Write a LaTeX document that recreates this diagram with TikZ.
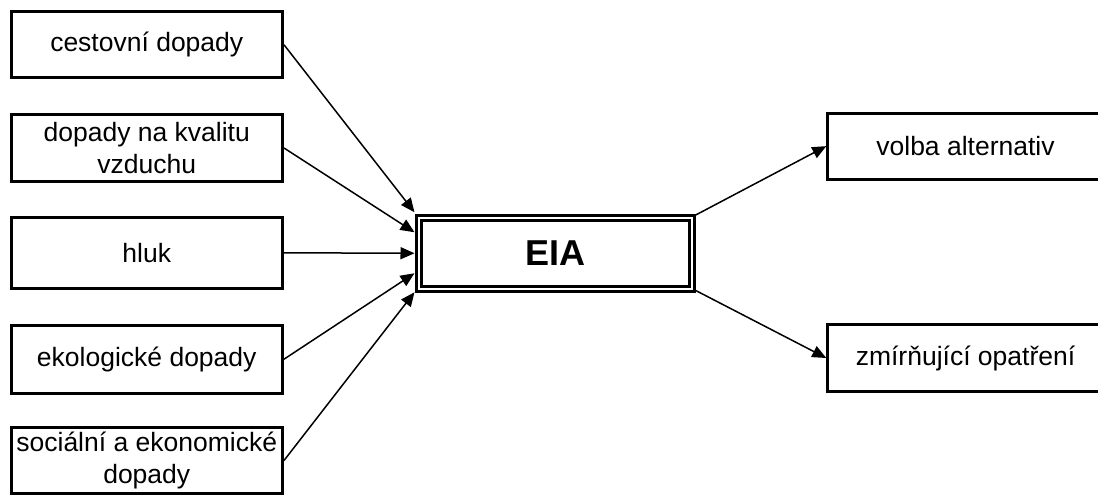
\documentclass[tikz,border=0pt]{standalone}
\usepackage{fontspec}
\setmainfont{Liberation Sans}
\usetikzlibrary{arrows.meta,calc}
\begin{document}
\begin{tikzpicture}[x=1pt,y=-1pt,
  box/.style={draw, line width=3pt, minimum width=271.5pt, inner sep=0pt,
    align=center, font=\fontsize{26.5}{32}\selectfont},
  outbox/.style={inner sep=0pt, minimum width=275pt,
    font=\fontsize{26.5}{32}\selectfont},
  core/.style={draw, line width=3pt, double, double distance=2pt,
    minimum width=273.5pt, minimum height=71.5pt, inner sep=0pt,
    font=\fontsize{36}{40}\selectfont\bfseries},
  frame/.style={line width=3pt},
  link/.style={line width=1.5pt, -{Triangle[length=14pt,width=12pt]}}]
\useasboundingbox (0,0) rectangle (1098,495);

% input factors
\node[box, minimum height=66.5pt] (b1) at (146.75,44.75) {cestovní dopady};
\node[box, minimum height=66.6pt] (b2) at (146.75,148) {dopady na kvalitu\\vzduchu};
\node[box, minimum height=71pt]   (b3) at (146.75,252.8) {hluk};
\node[box, minimum height=68.3pt] (b4) at (146.75,359.2) {ekologické dopady};
\node[box, minimum height=66.4pt] (b5) at (146.75,460.5) {sociální a ekonomické\\dopady};

% central assessment
\node[core] (eia) at (555.25,253.25) {EIA};

% outcomes: framed on three sides, open towards the page edge
\node[outbox, minimum height=65.7pt] (r1) at (965.5,146.15) {volba alternativ};
\node[outbox, minimum height=67.4pt] (r2) at (965.5,358) {zmírňující opatření};
\foreach \r in {r1,r2}
  \draw[frame] ($(\r.north east)+(2,0)$) -- (\r.north west) -- (\r.south west)
               -- ($(\r.south east)+(2,0)$);

% arrow targets on the left side of the EIA box
\coordinate (t1) at ($(eia.center)+(-140.75,-41)$);
\coordinate (t2) at ($(eia.center)+(-140.75,-21)$);
\coordinate (t3) at ($(eia.center)+(-140.75,0)$);
\coordinate (t4) at ($(eia.center)+(-140.75,20)$);
\coordinate (t5) at ($(eia.center)+(-140.75,39)$);
% arrow starts at the right-hand corners
\coordinate (s1) at ($(eia.center)+(140,-38)$);
\coordinate (s2) at ($(eia.center)+(140,37)$);

\draw[link] (b1.east) -- (t1);
\draw[link] (b2.east) -- (t2);
\draw[link] (b3.east) -- (t3);
\draw[link] (b4.east) -- (t4);
\draw[link] (b5.east) -- (t5);
\draw[link] (s1) -- ($(r1.west)+(-1.5,0)$);
\draw[link] (s2) -- ($(r2.west)+(-1.5,0)$);
\end{tikzpicture}
\end{document}
